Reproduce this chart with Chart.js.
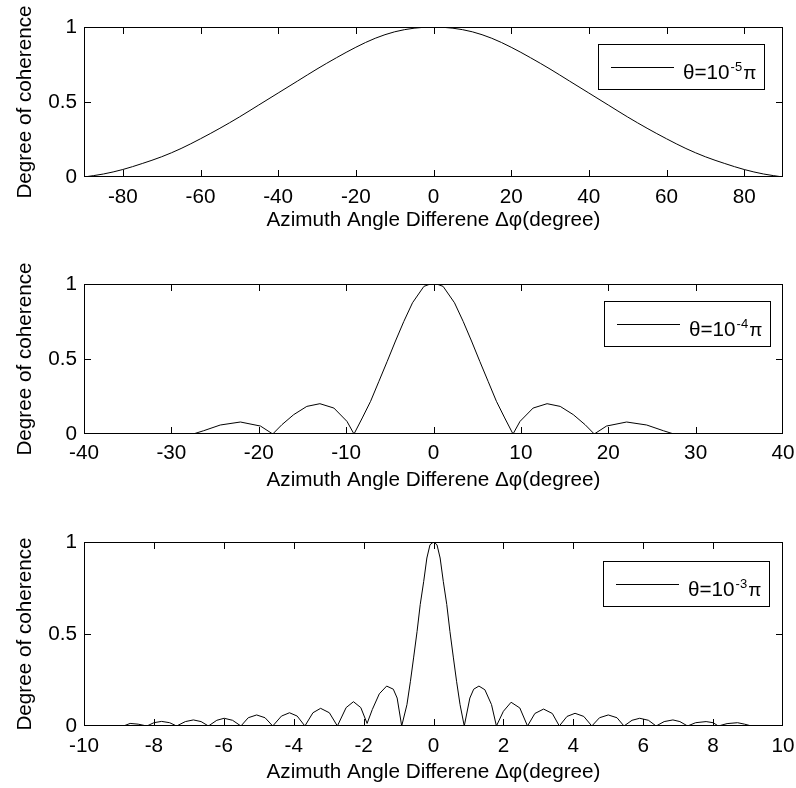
<!DOCTYPE html>
<html><head><meta charset="utf-8">
<script src="https://cdn.jsdelivr.net/npm/chart.js@4/dist/chart.umd.min.js"></script>
<style>
html,body{margin:0;padding:0;background:#fff;width:796px;height:788px;overflow:hidden}
canvas{position:absolute;left:0;display:block}
</style></head><body>
<canvas id="c1" width="796" height="233" style="top:0px"></canvas>
<canvas id="c2" width="796" height="243" style="top:250px"></canvas>
<canvas id="c3" width="796" height="275" style="top:510px"></canvas>
<script>
// ---- data ----
const xTitle = 'Azimuth Angle Differene Δφ(degree)';
const yTitle = 'Degree of coherence';
const yTicks = [0, 0.5, 1];
const xTicks1 = [-80, -60, -40, -20, 0, 20, 40, 60, 80];
const xTicks2 = [-40, -30, -20, -10, 0, 10, 20, 30, 40];
const xTicks3 = [-10, -8, -6, -4, -2, 0, 2, 4, 6, 8, 10];
const legendBase = 'θ=10';
const legendExp = ['-5', '-4', '-3'];
const legendTail = 'π';

// panel 1: theta = 1e-5 pi
const angle1 = [-90, -85, -80, -75, -70, -65, -60, -55, -50, -45, -40, -35, -30, -25, -20, -15, -10, -5, 0,
                5, 10, 15, 20, 25, 30, 35, 40, 45, 50, 55, 60, 65, 70, 75, 80, 85, 90];
const coh1 = [0.000, 0.020, 0.050, 0.090, 0.135, 0.190, 0.255, 0.325, 0.400, 0.480, 0.560, 0.640, 0.720, 0.795, 0.865, 0.925, 0.968, 0.992, 1.000,
              0.992, 0.968, 0.925, 0.865, 0.795, 0.720, 0.640, 0.560, 0.480, 0.400, 0.325, 0.255, 0.190, 0.135, 0.090, 0.050, 0.020, 0.000];

// panel 2: theta = 1e-4 pi
const angle2 = [-40, -27.5, -26.3, -24.4, -22.1, -19.8,
                -18.4, -17.35, -16.0, -14.5, -13.0, -11.4, -9.9,
                -9.1, -8.15, -7.2, -6.25, -5.3, -4.35, -3.4, -2.4, -1.1, -0.5,
                0,
                0.5, 1.1, 2.4, 3.4, 4.35, 5.3, 6.25, 7.2, 8.15, 9.1,
                9.9, 11.4, 13.0, 14.5, 16.0, 17.35, 18.4,
                19.8, 22.1, 24.4, 26.3, 27.5, 40];
const coh2 = [0, 0, 0.022, 0.06, 0.08, 0.053,
              0, 0.062, 0.129, 0.184, 0.202, 0.173, 0.084,
              0, 0.107, 0.218, 0.351, 0.484, 0.62, 0.75, 0.875, 0.984, 0.997,
              1,
              0.997, 0.984, 0.875, 0.75, 0.62, 0.484, 0.351, 0.218, 0.107, 0,
              0.084, 0.173, 0.202, 0.184, 0.129, 0.062, 0,
              0.053, 0.08, 0.06, 0.022, 0, 0];

// panel 3: theta = 1e-3 pi
const angle3 = [-10, -8.87, -8.68, -8.45, -8.2, -8.0, -7.78, -7.55, -7.35, -7.1, -6.87, -6.65, -6.44,
                -6.2, -5.99, -5.75, -5.51, -5.3, -5.06, -4.82, -4.6, -4.35, -4.12, -3.9, -3.68,
                -3.45, -3.23, -2.98, -2.75, -2.5, -2.29, -2.08, -1.9, -1.75, -1.55, -1.34, -1.15, -1.04, -0.91,
                -0.76, -0.66, -0.57, -0.47, -0.38, -0.28, -0.19, -0.1, 0,
                0.1, 0.19, 0.28, 0.38, 0.47, 0.57, 0.66, 0.76, 0.88,
                1.04, 1.15, 1.3, 1.47, 1.66, 1.8, 2.0, 2.22, 2.47, 2.69,
                2.9, 3.15, 3.4, 3.6, 3.82, 4.05, 4.3, 4.53, 4.75, 5.0, 5.25, 5.45,
                5.68, 5.9, 6.15, 6.37, 6.6, 6.85, 7.05, 7.27, 7.5, 7.8, 8.0, 8.15, 8.4, 8.7, 8.9, 9.1, 10];
const coh3 = [0, 0, 0.014, 0.01, 0, 0.018, 0.025, 0.018, 0, 0.024, 0.033, 0.024, 0,
              0.031, 0.042, 0.031, 0, 0.045, 0.06, 0.045, 0, 0.054, 0.072, 0.054, 0,
              0.072, 0.096, 0.072, 0, 0.1, 0.132, 0.1, 0.014, 0.09, 0.175, 0.217, 0.2, 0.152, 0,
              0.116, 0.243, 0.37, 0.514, 0.66, 0.786, 0.913, 0.985, 1,
              0.985, 0.913, 0.786, 0.66, 0.514, 0.37, 0.243, 0.116, 0,
              0.152, 0.2, 0.217, 0.197, 0.116, 0, 0.08, 0.129, 0.098, 0,
              0.068, 0.092, 0.068, 0, 0.052, 0.069, 0.052, 0, 0.045, 0.06, 0.045, 0,
              0.031, 0.042, 0.031, 0, 0.024, 0.033, 0.024, 0, 0.018, 0.024, 0.018, 0, 0.013, 0.018, 0.01, 0, 0];

// ---- drawing ----
const FONT = "'Liberation Sans', Arial, sans-serif";
const FS = 20.7;
Chart.defaults.font.family = FONT;
Chart.defaults.font.size = FS;
Chart.defaults.color = '#000';

const frameTicks = {
  id: 'frameTicks',
  afterDraw(chart) {
    const {ctx, chartArea: a, scales: {x, y}} = chart;
    const o = chart.options.plugins.frameTicks;
    ctx.save();
    ctx.strokeStyle = '#000';
    ctx.lineWidth = 1;
    ctx.strokeRect(a.left + 0.5, a.top + 0.5, a.right - a.left - 1, a.bottom - a.top - 1);
    const L = 7;
    ctx.beginPath();
    o.xt.forEach(v => {
      const p = Math.round(x.getPixelForValue(v)) + 0.5;
      if (p <= a.left + 1 || p >= a.right - 1) return;
      ctx.moveTo(p, a.bottom); ctx.lineTo(p, a.bottom - L);
      ctx.moveTo(p, a.top); ctx.lineTo(p, a.top + L);
    });
    o.yt.forEach(v => {
      const p = Math.round(y.getPixelForValue(v)) + 0.5;
      if (p <= a.top + 1 || p >= a.bottom - 1) return;
      ctx.moveTo(a.left, p); ctx.lineTo(a.left + L, p);
      ctx.moveTo(a.right, p); ctx.lineTo(a.right - L, p);
    });
    ctx.stroke();
    // legend box
    const g = o.legend;
    const bw = 166, bh = 45;
    const bx = a.right - g.rightGap - bw, by = a.top + g.topGap;
    ctx.fillStyle = '#fff';
    ctx.fillRect(bx, by, bw, bh);
    ctx.strokeRect(Math.round(bx) + 0.5, Math.round(by) + 0.5, bw, bh);
    ctx.beginPath();
    ctx.moveTo(bx + 13, Math.round(by + 22.5) + 0.5);
    ctx.lineTo(bx + 76, Math.round(by + 22.5) + 0.5);
    ctx.stroke();
    ctx.fillStyle = '#000';
    ctx.textBaseline = 'alphabetic';
    ctx.textAlign = 'left';
    ctx.font = FS + 'px ' + FONT;
    let tx = bx + 85;
    const base = by + 35;
    ctx.fillText(legendBase, tx, base);
    tx += ctx.measureText(legendBase).width + 1;
    ctx.font = '13px ' + FONT;
    ctx.fillText(g.exp, tx, base - 8);
    tx += ctx.measureText(g.exp).width + 1;
    ctx.font = '19px ' + FONT;
    ctx.fillText(legendTail, tx, base);
    ctx.restore();
  }
};

function makeChart(id, xs, ys, xTicks, xMin, xMax, padTop, xAxisH, tickPad, legend, smooth) {
  const pts = xs.map((v, i) => ({x: v, y: ys[i]}));
  return new Chart(document.getElementById(id), {
    type: 'scatter',
    data: {datasets: [{
      data: pts, showLine: true, pointRadius: 0, borderColor: '#000', borderWidth: 1,
      tension: smooth ? 0.4 : 0, cubicInterpolationMode: smooth ? 'monotone' : 'default'
    }]},
    options: {
      responsive: false, animation: false, events: [],
      layout: {padding: {top: padTop, right: 13, left: 0, bottom: 0}},
      plugins: {legend: {display: false}, tooltip: {enabled: false},
        frameTicks: {xt: xTicks, yt: yTicks, legend: legend}},
      scales: {
        x: {
          type: 'linear', min: xMin, max: xMax,
          grid: {display: false, drawTicks: false},
          border: {display: false},
          ticks: {padding: tickPad, autoSkip: false, maxRotation: 0, color: '#000',
                  font: {size: FS}, callback: v => String(v)},
          title: {display: true, text: xTitle, color: '#000', font: {size: FS}, padding: {top: 0, bottom: 0}},
          afterBuildTicks: s => { s.ticks = xTicks.map(v => ({value: v})); },
          afterFit: s => { s.height = xAxisH; s.paddingLeft = 0; s.paddingRight = 0; }
        },
        y: {
          type: 'linear', min: 0, max: 1,
          grid: {display: false, drawTicks: false},
          border: {display: false},
          ticks: {padding: 7, color: '#000', font: {size: FS}, callback: v => String(v)},
          title: {display: true, text: yTitle, color: '#000', font: {size: FS}, padding: {top: 13, bottom: 0}},
          afterBuildTicks: s => { s.ticks = yTicks.map(v => ({value: v})); },
          afterFit: s => { s.width = 84; s.paddingTop = 0; s.paddingBottom = 0; }
        }
      }
    },
    plugins: [frameTicks]
  });
}

makeChart('c1', angle1, coh1, xTicks1, -90, 90, 27, 56, 8, {rightGap: 19, topGap: 17, exp: legendExp[0]}, true);
makeChart('c2', angle2, coh2, xTicks2, -40, 40, 34, 59, 7, {rightGap: 13, topGap: 17, exp: legendExp[1]}, false);
makeChart('c3', angle3, coh3, xTicks3, -10, 10, 32, 59, 8, {rightGap: 14, topGap: 19, exp: legendExp[2]}, false);
</script>
</body></html>
